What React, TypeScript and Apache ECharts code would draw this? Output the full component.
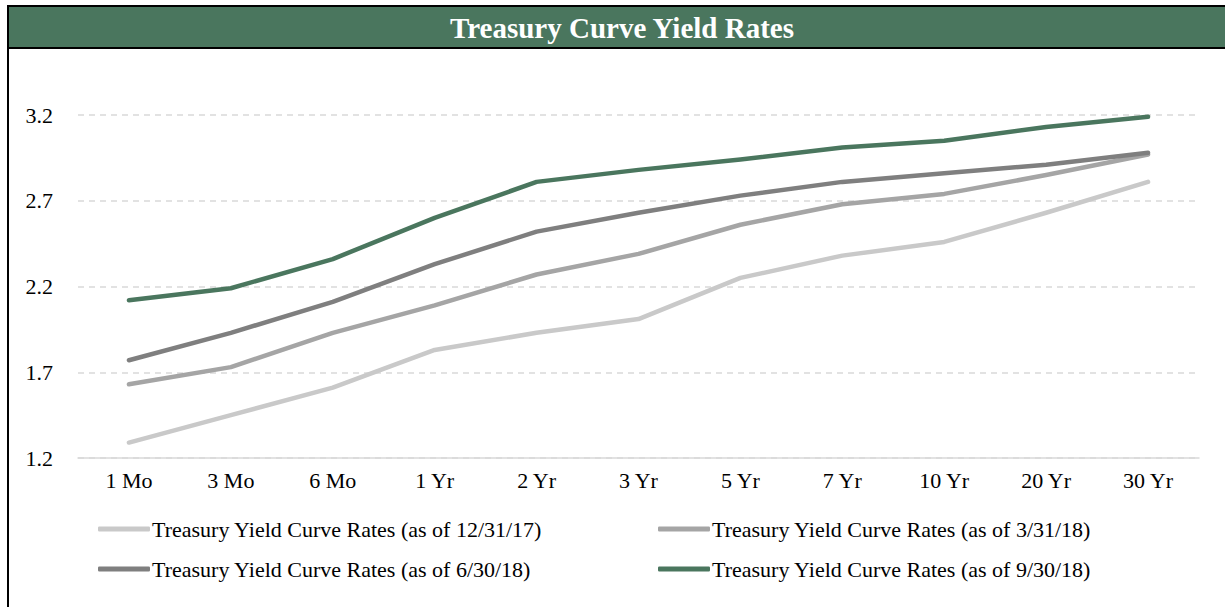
import React, { useEffect, useRef } from "react";
import * as echarts from "echarts";

const categories = ["1 Mo", "3 Mo", "6 Mo", "1 Yr", "2 Yr", "3 Yr", "5 Yr", "7 Yr", "10 Yr", "20 Yr", "30 Yr"];
const seriesNames = [
  "Treasury Yield Curve Rates (as of 12/31/17)",
  "Treasury Yield Curve Rates (as of 3/31/18)",
  "Treasury Yield Curve Rates (as of 6/30/18)",
  "Treasury Yield Curve Rates (as of 9/30/18)",
];
const rates1231_17 = [1.29, 1.45, 1.61, 1.83, 1.93, 2.01, 2.25, 2.38, 2.46, 2.63, 2.81];
const rates0331_18 = [1.63, 1.73, 1.93, 2.09, 2.27, 2.39, 2.56, 2.68, 2.74, 2.85, 2.97];
const rates0630_18 = [1.77, 1.93, 2.11, 2.33, 2.52, 2.63, 2.73, 2.81, 2.86, 2.91, 2.98];
const rates0930_18 = [2.12, 2.19, 2.36, 2.6, 2.81, 2.88, 2.94, 3.01, 3.05, 3.13, 3.19];
const colors = ["#c9c9c9", "#a5a5a5", "#7f7f7f", "#4a765e"];
const titleText = "Treasury Curve Yield Rates";

const FONT = "'Liberation Serif', 'DejaVu Serif', serif";

export default function App() {
  const ref = useRef<HTMLDivElement>(null);
  useEffect(() => {
    if (!ref.current) return;
    const chart = echarts.init(ref.current, null, { renderer: "svg" });
    const datasets = [rates1231_17, rates0331_18, rates0630_18, rates0930_18];
    const legendPos = [
      { left: 98, top: 518 },
      { left: 658, top: 518 },
      { left: 98, top: 558 },
      { left: 658, top: 558 },
    ];
    chart.setOption({
      animation: false,
      backgroundColor: "#ffffff",
      textStyle: { fontFamily: FONT },
      graphic: [
        { type: "rect", shape: { x: 7, y: 5, width: 1218, height: 44 }, style: { fill: "#000" }, z: 100 },
        { type: "rect", shape: { x: 9, y: 7, width: 1216, height: 40 }, style: { fill: colors[3] }, z: 101 },
        { type: "rect", shape: { x: 7, y: 5, width: 2, height: 602 }, style: { fill: "#000" }, z: 100 },
        {
          type: "text",
          x: 622,
          y: 28,
          z: 102,
          style: {
            text: titleText,
            fill: "#ffffff",
            font: `bold 29px ${FONT}`,
            textAlign: "center",
            textVerticalAlign: "middle",
          },
        },
      ],
      grid: { left: 78, right: 26, top: 115, bottom: 149, containLabel: false },
      xAxis: {
        type: "category",
        data: categories,
        boundaryGap: true,
        axisLine: { show: true, lineStyle: { color: "#d9d9d9", width: 1.5 } },
        axisTick: { show: false },
        axisLabel: { color: "#000", fontSize: 22, fontFamily: FONT, margin: 11 },
      },
      yAxis: {
        type: "value",
        min: 1.2,
        max: 3.2,
        interval: 0.5,
        axisLine: { show: false },
        axisTick: { show: false },
        axisLabel: {
          color: "#000",
          fontSize: 22,
          fontFamily: FONT,
          margin: 25,
          formatter: (v: number) => v.toFixed(1),
        },
        splitLine: { lineStyle: { color: "#d9d9d9", type: [6, 5], width: 1.5 } },
      },
      legend: seriesNames.map((name, i) => ({
        data: [name],
        left: legendPos[i].left,
        top: legendPos[i].top,
        icon: "roundRect",
        itemWidth: 52,
        itemHeight: 5,
        itemGap: 0,
        padding: 0,
        textStyle: { color: "#000", fontSize: 22, fontFamily: FONT, padding: [0, 0, 0, -3] },
      })),
      series: seriesNames.map((name, i) => ({
        name,
        type: "line",
        data: datasets[i],
        symbol: "none",
        clip: false,
        lineStyle: { color: colors[i], width: 4.5, cap: "round", join: "round" },
        itemStyle: { color: colors[i] },
      })),
    });
    return () => chart.dispose();
  }, []);
  return (
    <div
      ref={ref}
      style={{ position: "absolute", left: 0, top: 0, width: 1225, height: 607, background: "#fff" }}
    />
  );
}
